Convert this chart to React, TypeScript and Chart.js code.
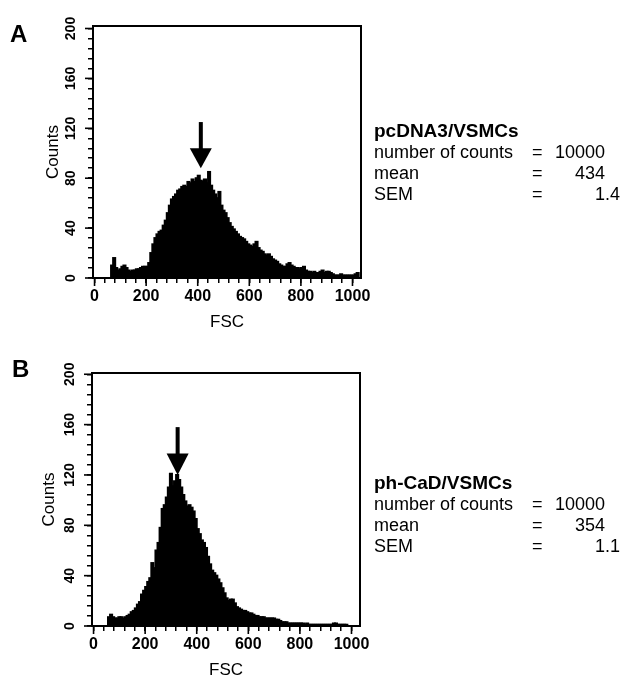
import React, { useEffect, useRef } from 'react';
import { Chart, registerables } from 'chart.js';

Chart.register(...registerables);

// ---------- data ----------
const BIN_WIDTH = 8; // FSC channels per histogram bin

// pcDNA3/VSMCs histogram counts (bins of 8 channels, 0..1023)
const countsA = [
  0, 0, 0, 0, 0, 0, 0, 0,
  10, 16, 8, 6, 7, 9, 10, 8,
  6, 5, 6, 6, 7, 7, 8, 9,
  9, 9, 12, 20, 27, 32, 35, 37,
  38, 42, 46, 52, 58, 63, 65, 67,
  70, 71, 73, 74, 73, 77, 76, 79,
  77, 80, 82, 78, 77, 79, 76, 85,
  74, 70, 67, 64, 69, 58, 54, 52,
  48, 44, 41, 39, 37, 35, 33, 32,
  31, 29, 27, 26, 25, 27, 29, 24,
  22, 21, 19, 18, 19, 17, 15, 14,
  13, 11, 10, 9, 9, 11, 12, 10,
  9, 8, 8, 7, 8, 9, 6, 5,
  5, 4, 5, 4, 4, 5, 6, 4,
  5, 5, 4, 3, 2, 2, 2, 3,
  2, 2, 2, 2, 2, 2, 3, 4,
];

// ph-CaD/VSMCs histogram counts (bins of 8 channels, 0..1023)
const countsB = [
  0, 0, 0, 0, 0, 0, 0, 7,
  9, 7, 6, 6, 7, 7, 6, 7,
  8, 9, 11, 12, 14, 17, 19, 25,
  28, 31, 35, 38, 50, 46, 60, 66,
  78, 93, 96, 102, 110, 121, 111, 115,
  120, 116, 110, 104, 99, 95, 96, 94,
  91, 85, 77, 73, 68, 66, 62, 55,
  49, 44, 42, 40, 37, 34, 30, 26,
  22, 20, 21, 21, 18, 15, 14, 13,
  12, 12, 11, 10, 10, 9, 8, 8,
  7, 7, 7, 6, 6, 6, 6, 6,
  5, 5, 4, 3, 3, 3, 2, 2,
  2, 2, 2, 2, 2, 2, 1, 2,
  1, 1, 1, 1, 1, 1, 1, 1,
  1, 1, 1, 1, 2, 2, 1, 1,
  1, 1, 1, 0, 0, 0, 0, 0,
];

const xTickLabels = [0, 200, 400, 600, 800, 1000];
const yTickLabels = [0, 40, 80, 120, 160, 200];
const X_MINOR_STEP = 40;
const Y_MINOR_STEP = 8;

const panelLetters = ['A', 'B'];
const sampleNames = ['pcDNA3/VSMCs', 'ph-CaD/VSMCs'];
const statLabels = ['number of counts', 'mean', 'SEM'];
const statsA = ['10000', '434', '1.4'];
const statsB = ['10000', '354', '1.1'];

// arrow: [FSC position, shaft top count, head top count, tip count]
const arrowA = [412, 125, 104, 88];
const arrowB = [326, 158, 137, 120];

const xAxisTitle = 'FSC';
const yAxisTitle = 'Counts';

// ---------- layout / style ----------
const FONT = "'Liberation Sans', Arial, Helvetica, sans-serif";
const W = 637;

type Panel = {
  counts: number[];
  letter: string;
  name: string;
  stats: string[];
  arrow: number[];
  canvasTop: number;
  canvasH: number;
  top: number;
  bottom: number;
  left: number;
  right: number;
  yMax: number;
  countsPad: number;
  fscPad: number;
  letterX: number;
  letterY: number;
  textY: number[];
};

const panels: Panel[] = [
  {
    counts: countsA, letter: panelLetters[0], name: sampleNames[0], stats: statsA, arrow: arrowA,
    canvasTop: 0, canvasH: 340, top: 26, bottom: 278, left: 93, right: 361, yMax: 202,
    countsPad: 43, fscPad: 7.8, letterX: 10, letterY: 42, textY: [137, 158, 179, 199.5],
  },
  {
    counts: countsB, letter: panelLetters[1], name: sampleNames[1], stats: statsB, arrow: arrowB,
    canvasTop: 340, canvasH: 350, top: 33, bottom: 286, left: 92, right: 360, yMax: 201,
    countsPad: 39, fscPad: 9.8, letterX: 12, letterY: 37, textY: [149, 170, 191, 212],
  },
];

function makeDecor(p: Panel) {
  return {
    id: 'decor',
    afterDraw(chart: any) {
      const { ctx, chartArea: ca, scales } = chart;
      const xs = scales.x;
      const ys = scales.y;
      ctx.save();
      ctx.strokeStyle = '#000';
      ctx.fillStyle = '#000';
      // top & right frame
      ctx.lineWidth = 2;
      ctx.beginPath();
      ctx.moveTo(ca.left - 1, ca.top);
      ctx.lineTo(ca.right, ca.top);
      ctx.lineTo(ca.right, ca.bottom + 1);
      ctx.stroke();
      // longer major ticks
      ctx.lineWidth = 1.6;
      xTickLabels.forEach((v) => {
        const px = xs.getPixelForValue(v);
        ctx.beginPath();
        ctx.moveTo(px, ca.bottom);
        ctx.lineTo(px, ca.bottom + 8);
        ctx.stroke();
      });
      yTickLabels.forEach((v) => {
        const py = ys.getPixelForValue(v);
        ctx.beginPath();
        ctx.moveTo(ca.left, py);
        ctx.lineTo(ca.left - 8, py);
        ctx.stroke();
      });
      // arrow
      const [ax, aTop, aHead, aTip] = p.arrow;
      const px = xs.getPixelForValue(ax);
      const yTop = ys.getPixelForValue(aTop);
      const yHead = ys.getPixelForValue(aHead);
      const yTip = ys.getPixelForValue(aTip);
      ctx.fillRect(px - 2, yTop, 4, yHead - yTop + 1);
      ctx.beginPath();
      ctx.moveTo(px - 11, yHead);
      ctx.lineTo(px + 11, yHead);
      ctx.lineTo(px, yTip);
      ctx.closePath();
      ctx.fill();
      // panel letter
      ctx.font = `bold 24px ${FONT}`;
      ctx.textBaseline = 'alphabetic';
      ctx.textAlign = 'left';
      ctx.fillText(p.letter, p.letterX, p.letterY);
      // statistics block
      const labelX = 374;
      const eqX = 532;
      const valRight = 605;
      ctx.font = `bold 19px ${FONT}`;
      ctx.fillText(p.name, labelX, p.textY[0]);
      ctx.font = `18px ${FONT}`;
      statLabels.forEach((lab, i) => {
        const y = p.textY[i + 1];
        ctx.textAlign = 'left';
        ctx.fillText(lab, labelX, y);
        ctx.fillText('=', eqX, y);
        const val = p.stats[i];
        const dot = val.indexOf('.');
        const intPart = dot >= 0 ? val.slice(0, dot) : val;
        const frac = dot >= 0 ? val.slice(dot) : '';
        ctx.textAlign = 'right';
        ctx.fillText(intPart, valRight, y);
        if (frac) {
          ctx.textAlign = 'left';
          ctx.fillText(frac, valRight, y);
        }
      });
      ctx.restore();
    },
  };
}

function Histogram({ p }: { p: Panel }) {
  const ref = useRef<HTMLCanvasElement>(null);
  useEffect(() => {
    const points = p.counts.map((v, i) => ({ x: i * BIN_WIDTH + BIN_WIDTH / 2, y: v }));
    const chart = new Chart(ref.current as HTMLCanvasElement, {
      type: 'bar',
      data: {
        datasets: [
          {
            data: points,
            backgroundColor: '#000',
            borderColor: '#000',
            borderWidth: 0,
            barPercentage: 1,
            categoryPercentage: 1,
            inflateAmount: 1,
          },
        ],
      },
      options: {
        responsive: false,
        animation: false,
        events: [],
        layout: { padding: { left: 0, top: p.top, right: W - p.right, bottom: 0 } },
        plugins: { legend: { display: false }, tooltip: { enabled: false } },
        scales: {
          x: {
            type: 'linear',
            min: -6,
            max: 1033,
            offset: false,
            afterBuildTicks: (s: any) => {
              const t: any[] = [];
              for (let v = xTickLabels[0]; v <= xTickLabels[xTickLabels.length - 1]; v += X_MINOR_STEP) t.push({ value: v });
              s.ticks = t;
            },
            afterFit: (s: any) => {
              s.height = p.canvasH - p.bottom;
            },
            ticks: {
              autoSkip: false,
              minRotation: 0,
              maxRotation: 0,
              padding: 4,
              color: '#000',
              font: { family: FONT, size: 16, weight: 'bold' },
              callback: (v: any) => (xTickLabels.includes(Number(v)) ? String(v) : ''),
            },
            grid: { display: true, offset: false, drawOnChartArea: false, drawTicks: true, tickLength: 5, color: '#000', lineWidth: 1.5 },
            border: { display: true, color: '#000', width: 2 },
            title: {
              display: true,
              text: xAxisTitle,
              color: '#000',
              font: { family: FONT, size: 17 },
              padding: { top: 0, bottom: p.fscPad },
            },
          },
          y: {
            type: 'linear',
            min: 0,
            max: p.yMax,
            afterBuildTicks: (s: any) => {
              const t: any[] = [];
              for (let v = yTickLabels[0]; v <= yTickLabels[yTickLabels.length - 1]; v += Y_MINOR_STEP) t.push({ value: v });
              s.ticks = t;
            },
            afterFit: (s: any) => {
              s.width = p.left;
            },
            ticks: {
              autoSkip: false,
              minRotation: 90,
              maxRotation: 90,
              crossAlign: 'center',
              padding: 5,
              color: '#000',
              font: { family: FONT, size: 14, weight: 'bold' },
              callback: (v: any) => (yTickLabels.includes(Number(v)) ? String(v) : ''),
            },
            grid: { display: true, drawOnChartArea: false, drawTicks: true, tickLength: 5, color: '#000', lineWidth: 1.5 },
            border: { display: true, color: '#000', width: 2 },
            title: {
              display: true,
              text: yAxisTitle,
              color: '#000',
              font: { family: FONT, size: 17 },
              padding: { top: p.countsPad, bottom: 0 },
            },
          },
        },
      } as any,
      plugins: [makeDecor(p)],
    });
    return () => chart.destroy();
  }, [p]);
  return (
    <canvas
      ref={ref}
      width={W}
      height={p.canvasH}
      style={{ position: 'absolute', left: 0, top: p.canvasTop, display: 'block' }}
    />
  );
}

export default function App() {
  return (
    <div
      style={{
        position: 'absolute',
        left: 0,
        top: 0,
        width: W,
        height: 677,
        overflow: 'hidden',
        background: '#fff',
      }}
    >
      {panels.map((p, i) => (
        <Histogram key={i} p={p} />
      ))}
    </div>
  );
}
